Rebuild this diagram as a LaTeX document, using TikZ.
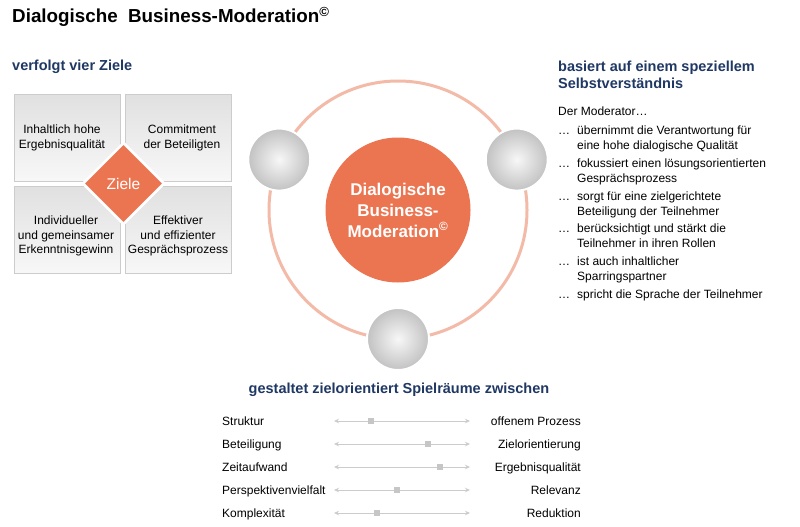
\documentclass[tikz,border=0pt]{standalone}
\usepackage{fontspec}
\setmainfont{Liberation Sans}
\usetikzlibrary{shapes.geometric,arrows.meta,positioning}
\definecolor{dbmorange}{RGB}{236,117,81}
\definecolor{dbmring}{RGB}{243,186,168}
\definecolor{dbmblue}{RGB}{31,56,100}
\begin{document}
\begin{tikzpicture}[x=1pt, y={(0pt,-1pt)}, font=\fontsize{12}{14.8}\selectfont,
    headline/.style={anchor=west, text=dbmblue, font=\bfseries\fontsize{14.5}{17}\selectfont, align=left},
    zielbox/.style={draw=gray!40, top color=gray!24, bottom color=gray!6, minimum width=106pt, minimum height=87pt, inner sep=0pt},
    kugel/.style={circle, draw=white, line width=2pt, inner color=gray!6, outer color=gray!48, minimum size=62pt},
    regler/.style={draw=gray!40, line width=0.9pt, {Stealth[length=5pt,width=4.5pt]}-{Stealth[length=5pt,width=4.5pt]}},
    schieber/.style={fill=gray!45, minimum size=6.5pt, inner sep=0pt}]
    \fill[white] (0,0) rectangle (800,527);
    \useasboundingbox (0,0) rectangle (800,527);
    \node[anchor=west, inner sep=0pt, font=\bfseries\fontsize{18.8}{22}\selectfont] (titel) at (12,17) {Dialogische\ \ Business-Moderation\textsuperscript{©}};
    \node[headline, inner sep=0pt] (ziele head) at (12,67) {verfolgt vier Ziele};
    \node[zielbox, anchor=north west] (box1) at (14,94) {};
    \node[zielbox, anchor=north west] (box2) at (125,94) {};
    \node[zielbox, anchor=north west] (box3) at (14,186) {};
    \node[zielbox, anchor=north west] (box4) at (125,186) {};
    \node[align=center] (text1) at (62,138) {Inhaltlich hohe\\Ergebnisqualität};
    \node[align=center] (text2) at (182,138) {Commitment\\der Beteiligten};
    \node[align=center] (text3) at (66,236) {Individueller\\und gemeinsamer\\Erkenntnisgewinn};
    \node[align=center] (text4) at (178,236) {Effektiver\\und effizienter\\Gesprächsprozess};
    \node[diamond, fill=dbmorange, draw=white, line width=2.5pt, minimum width=82pt, minimum height=82pt, inner sep=0pt, text=white, font=\fontsize{15.5}{18}\selectfont] (ziele) at (123.5,183.5) {Ziele};
    \coordinate (mitte) at (398,210);
    \draw[dbmring, line width=3pt] (mitte) circle[radius=129];
    \node[circle, fill=dbmorange, minimum size=145pt, inner sep=0pt, align=center, text=white, font=\bfseries\fontsize{17}{21}\selectfont] (dbm) at (mitte) {Dialogische\\Business-\\Moderation\textsuperscript{©}};
    \foreach \w/\n in {-157/links, -23/rechts, 90/unten}
        \node[kugel] (kugel \n) at ([shift={(\w:129)}]mitte) {};
    \node[headline, inner sep=0pt] (basis head) at (558,75) {basiert auf einem speziellem\\Selbstverständnis};
    \node[anchor=north west, inner sep=0pt] (moderator) at (558,105) {\strut Der Moderator…};
    \foreach[count=\i] \t/\y in {{übernimmt\ die Verantwortung für\\eine hohe dialogische Qualität}/124,
        {fokussiert einen lösungsorientierten\\Gesprächsprozess}/157,
        {sorgt für eine zielgerichtete\\Beteiligung der Teilnehmer}/190,
        {berücksichtigt und stärkt die\\Teilnehmer\ in ihren Rollen}/222,
        {ist auch inhaltlicher\\Sparringspartner}/255,
        {spricht die Sprache der Teilnehmer}/288}
    {%
        \node[anchor=north west, align=left, inner sep=0pt] (item\i) at (577,\y) {\strut\t};
        \node[anchor=north west, inner sep=0pt] (punkt\i) at (item\i.north -| moderator.west) {\strut…};
    }
    \node[headline, anchor=center, inner sep=0pt] (spiel head) at (399,390) {gestaltet zielorientiert Spielräume zwischen};
    \foreach[count=\i] \l/\r/\p in {Struktur/offenem Prozess/371, Beteiligung/Zielorientierung/428,
        Zeitaufwand/Ergebnisqualität/440, Perspektivenvielfalt/Relevanz/397, Komplexität/Reduktion/377}
    {%
        \pgfmathsetmacro\y{421+23*(\i-1)}
        \node[anchor=base west, inner sep=0pt] (links\i) at (222,\y+4.3) {\l};
        \node[anchor=base east, inner sep=0pt] (rechts\i) at (581,\y+4.3) {\r};
        \coordinate (von\i) at (334,\y);
        \coordinate (bis\i) at (470,\y);
        \draw[regler] (von\i) -- (bis\i);
        \node[schieber] (regler\i) at (\p,\y) {};
    }
\end{tikzpicture}
\end{document}
